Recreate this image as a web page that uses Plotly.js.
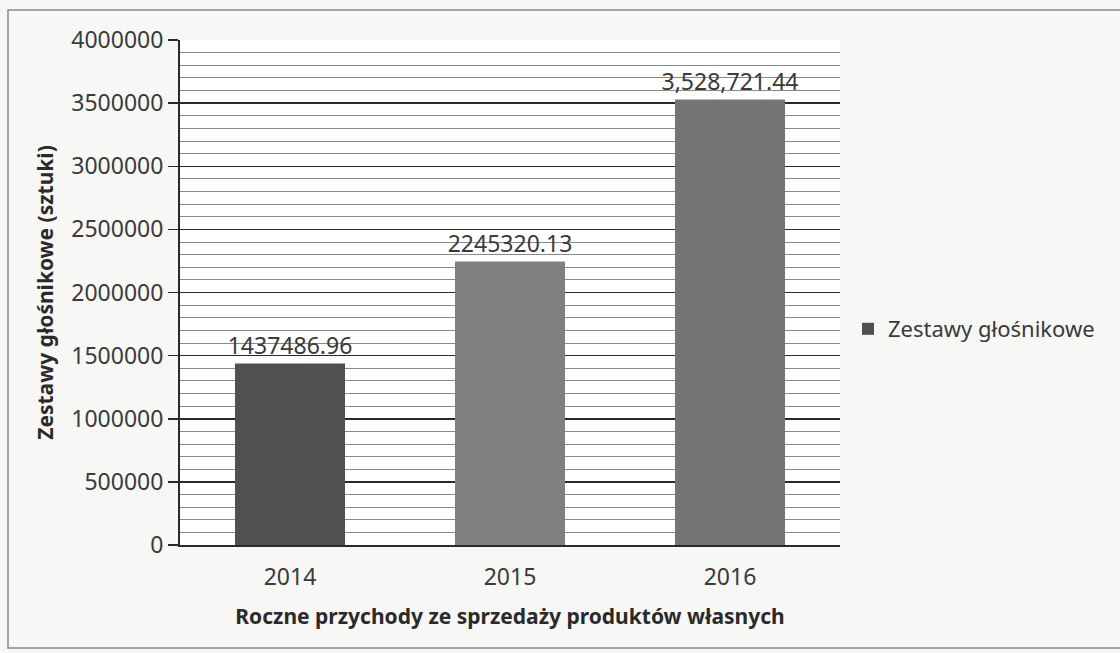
<!DOCTYPE html>
<html>
<head>
<meta charset="utf-8">
<script src="https://cdn.plot.ly/plotly-3.0.1.min.js"></script>
<style>html,body{margin:0;padding:0;background:#f7f7f5;}#chart{width:1120px;height:653px;}</style>
</head>
<body>
<div id="chart"></div>
<script>
var categories = ["2014", "2015", "2016"];
var values = [1437486.96, 2245320.13, 3528721.44];
var labels = ["1437486.96", "2245320.13", "3,528,721.44"];
var barColors = ["#505050", "#808080", "#747474"];
var seriesName = "Zestawy głośnikowe";
var yTitle = "Zestawy głośnikowe (sztuki)";
var xTitle = "Roczne przychody ze sprzedaży produktów własnych";

var font = "Noto Sans, Open Sans, sans-serif";
var L = 180, R = 840, T = 40, B = 545;
function px(x){ return (x - L) / (R - L); }
function py(y){ return (B - y) / (B - T); }

var trace = {
  type: "bar",
  x: categories,
  y: values,
  name: seriesName,
  text: labels,
  textposition: "outside",
  constraintext: "none",
  cliponaxis: false,
  textfont: {family: font, size: 23, color: "#3a3a3a"},
  marker: {color: barColors, line: {width: 0}},
  width: 0.5,
  showlegend: true,
  hoverinfo: "x+y"
};

var layout = {
  width: 1120,
  height: 653,
  margin: {l: L, r: 1120 - R, t: T, b: 653 - B},
  paper_bgcolor: "#f7f7f5",
  plot_bgcolor: "#ffffff",
  font: {family: font, color: "#3a3a3a"},
  showlegend: true,
  legend: {
    x: px(848), y: py(329), xanchor: "left", yanchor: "middle",
    font: {family: font, size: 22, color: "#3a3a3a"},
    bgcolor: "rgba(0,0,0,0)"
  },
  xaxis: {
    type: "category",
    showline: true, linecolor: "#2a2a2a", linewidth: 2,
    ticks: "", showgrid: false,
    tickfont: {family: font, size: 23, color: "#3a3a3a"},
    ticklabelstandoff: 10,
    title: {text: xTitle, font: {family: font, size: 21, color: "#2a2a2a", weight: "bold"}, standoff: 19}
  },
  yaxis: {
    range: [0, 4000000],
    dtick: 500000,
    tickformat: "d",
    showline: true, linecolor: "#2a2a2a", linewidth: 2,
    ticks: "outside", ticklen: 10, tickcolor: "#2a2a2a", tickwidth: 1.5,
    showgrid: true, gridcolor: "#2a2a2a", gridwidth: 1.5,
    zeroline: false,
    tickfont: {family: font, size: 23, color: "#3a3a3a"},
    minor: {dtick: 100000, showgrid: true, gridcolor: "#8a8a8a", gridwidth: 1, ticks: ""},
    title: {text: yTitle, font: {family: font, size: 21, color: "#2a2a2a", weight: "bold"}, standoff: 12}
  },
  shapes: [{
    type: "rect", xref: "paper", yref: "paper",
    x0: px(8), x1: px(1130), y0: py(648), y1: py(10),
    line: {color: "#8a8a8a", width: 1.5}, fillcolor: "rgba(0,0,0,0)", layer: "below"
  }]
};

Plotly.newPlot("chart", [trace], layout, {displayModeBar: false, staticPlot: true});
</script>
</body>
</html>
